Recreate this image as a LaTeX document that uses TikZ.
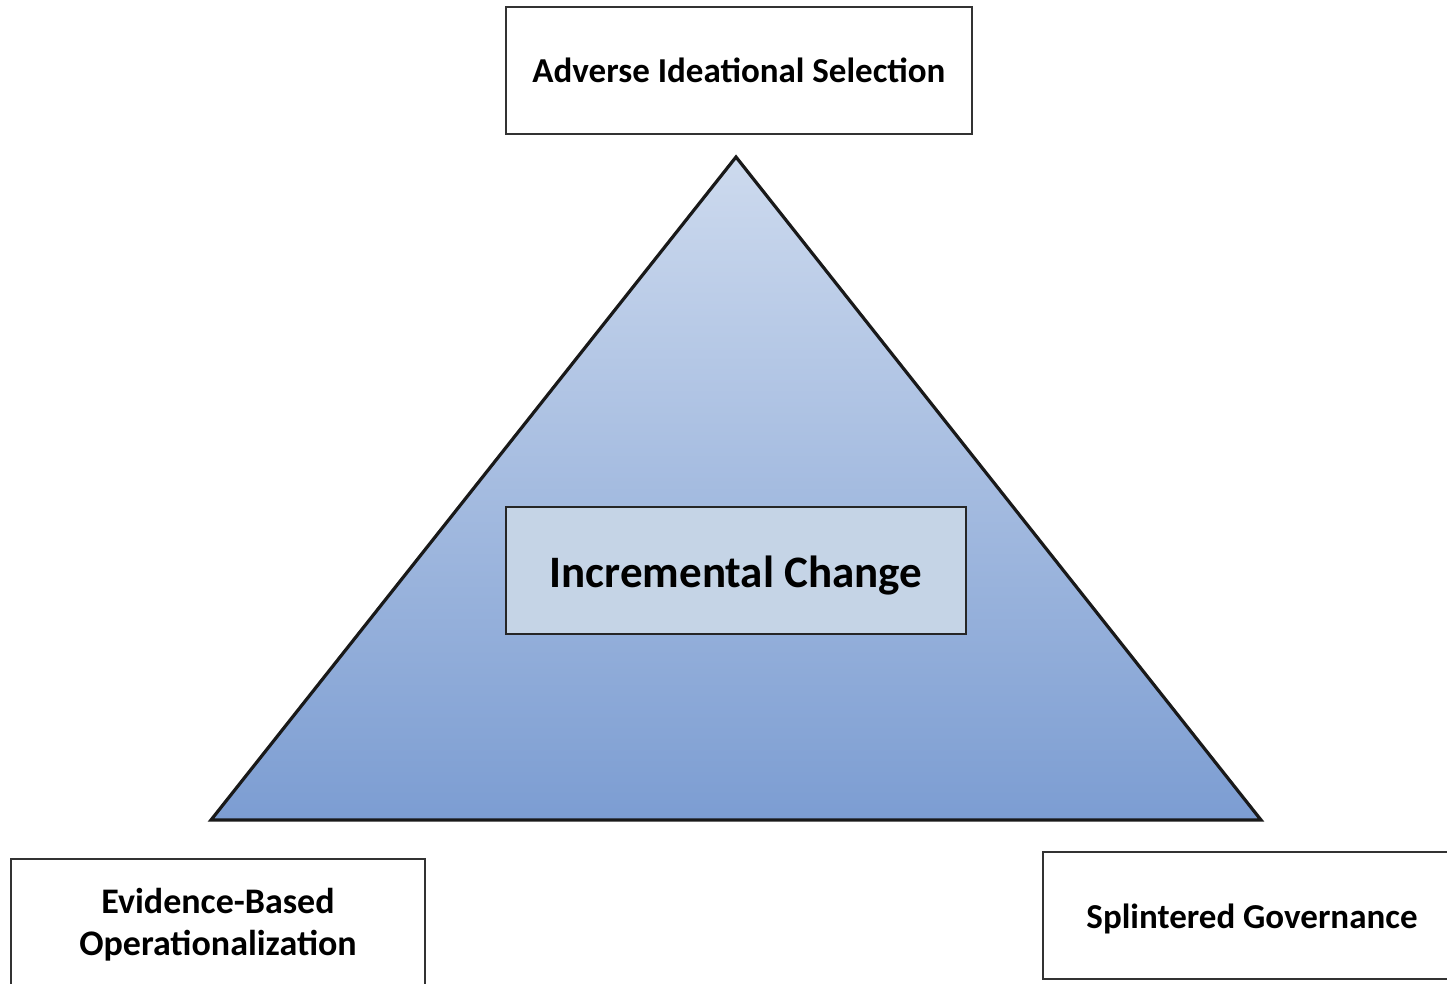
\documentclass[tikz,border=0pt]{standalone}
\usepackage{fontspec}
\setmainfont{Carlito}
\begin{document}
\begin{tikzpicture}[x=1pt,y=-1pt,
  labelbox/.style={draw=black!80,line width=2pt,fill=white,align=center,
    font=\bfseries\fontsize{35}{42}\selectfont,inner sep=0pt},
  labeltext/.style={align=center,inner sep=0pt,
    font=\bfseries\fontsize{35}{42}\selectfont},
  corebox/.style={draw=black!85,line width=2pt,fill=coreFill,align=center,
    font=\bfseries\fontsize{45}{50}\selectfont,inner sep=0pt}]
\definecolor{triTop}{HTML}{CDDAEE}
\definecolor{triBot}{HTML}{7C9DD2}
\definecolor{coreFill}{HTML}{C5D4E6}
\useasboundingbox (0,0) rectangle (1447,984);
% pyramid
\coordinate (apex) at (736,157);
\coordinate (bl) at (211,820);
\coordinate (br) at (1261,820);
\shade[top color=triTop,bottom color=triBot] (apex) -- (bl) -- (br) -- cycle;
\draw[line width=3.2pt,line join=miter,black!90] (apex) -- (bl) -- (br) -- cycle;
% boxes
\node[labelbox,minimum width=466pt,minimum height=127pt] (ais) at (739,70.5) {Adverse Ideational Selection};
\node[corebox,minimum width=460pt,minimum height=127pt,text depth=0pt] (ic) at (736,570.5) {\raisebox{-3pt}{Incremental Change}};
\node[labelbox,minimum width=414pt,minimum height=140pt] (ebo) at (218,929) {};
\node[labeltext,font=\bfseries\fontsize{36}{42}\selectfont] (ebotext) at (218,925) {Evidence-Based\\Operationalization};
\node[labelbox,minimum width=420pt,minimum height=127pt] (sg) at (1253,915.5) {};
\node[labeltext] (sgtext) at (1252,918.5) {Splintered Governance};
\end{tikzpicture}
\end{document}
